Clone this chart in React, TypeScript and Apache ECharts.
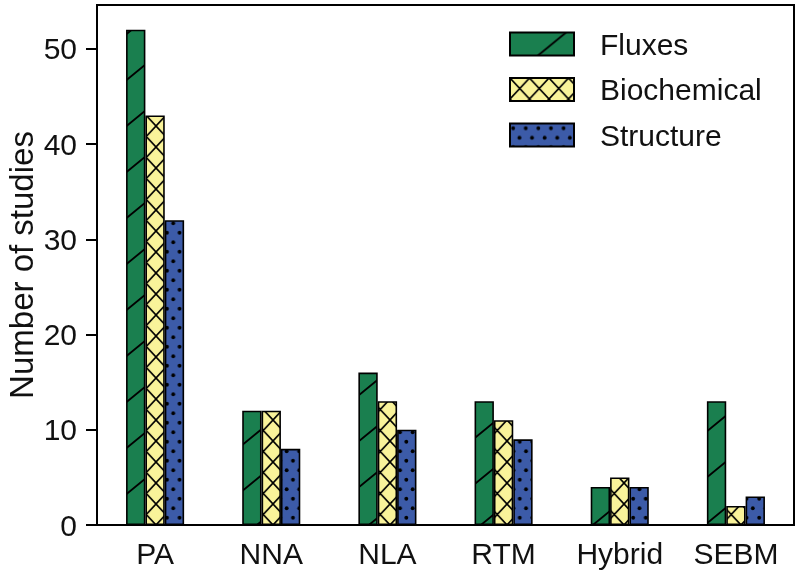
import React, { useEffect, useRef } from 'react';
import * as echarts from 'echarts';

const categories = ['PA', 'NNA', 'NLA', 'RTM', 'Hybrid', 'SEBM'];
const seriesNames = ['Fluxes', 'Biochemical', 'Structure'];
const fluxes = [52, 12, 16, 13, 4, 13];
const biochemical = [43, 12, 13, 11, 5, 2];
const structure = [32, 8, 10, 9, 4, 3];
const yTicks = [0, 10, 20, 30, 40, 50];
const yMax = 54.6;

const GREEN = '#1a7f4f';
const YELLOW = '#f9f39a';
const BLUE = '#3c5ba8';
const FONT = '"Liberation Sans", Arial, Helvetica, sans-serif';

function svgPattern(w: number, h: number, body: string, x = 0, y = 0) {
  const svg = `<svg xmlns="http://www.w3.org/2000/svg" width="${w}" height="${h}" viewBox="0 0 ${w} ${h}">${body}</svg>`;
  return {
    image: 'data:image/svg+xml;charset=utf-8,' + encodeURIComponent(svg),
    repeat: 'repeat',
    imageWidth: w,
    imageHeight: h,
    x,
    y,
  } as any;
}

function hatchPatterns() {
  const gw = 56, gh = 46;
  const green = svgPattern(
    gw,
    gh,
    `<rect width="${gw}" height="${gh}" fill="${GREEN}"/>` +
      `<path d="M${-gw},${2 * gh} L${2 * gw},${-gh} M0,${2 * gh} L${3 * gw},${-gh} M${-2 * gw},${2 * gh} L${gw},${-gh}" stroke="#000" stroke-width="1.8" fill="none"/>`
  );
  const yw = 19.5, yh = 21;
  const yellow = svgPattern(
    yw,
    yh,
    `<rect width="${yw}" height="${yh}" fill="${YELLOW}"/>` +
      `<path d="M${-yw},${-yh} L${2 * yw},${2 * yh} M${2 * yw},${-yh} L${-yw},${2 * yh}" stroke="#000" stroke-width="1.6" fill="none"/>`,
    8.8,
    0
  );
  const bw = 12.6, bh = 19;
  const blue = svgPattern(
    bw,
    bh,
    `<rect width="${bw}" height="${bh}" fill="${BLUE}"/>` +
      `<circle cx="3.15" cy="4.75" r="1.9" fill="#000"/><circle cx="9.45" cy="14.25" r="1.9" fill="#000"/>`
  );
  return [green, yellow, blue];
}

export default function App() {
  const ref = useRef<HTMLDivElement>(null);
  useEffect(() => {
    if (!ref.current) return;
    const chart = echarts.init(ref.current, undefined, { renderer: 'svg' });
    const pats = hatchPatterns();
    const values = [fluxes, biochemical, structure];
    const option: any = {
      animation: false,
      textStyle: { fontFamily: FONT },
      grid: {
        left: 97,
        right: 6,
        top: 5,
        bottom: 51,
        show: true,
        borderColor: '#000',
        borderWidth: 2,
        containLabel: false,
        outerBoundsMode: 'none',
      },
      legend: {
        orient: 'vertical',
        left: 504,
        top: 24,
        itemWidth: 64,
        itemHeight: 23,
        itemGap: 15.5,
        icon: 'rect',
        data: seriesNames,
        textStyle: { fontSize: 30, color: '#111', fontFamily: FONT, padding: [0, 0, 0, 21] },
      },
      xAxis: {
        type: 'category',
        data: categories,
        axisLine: { lineStyle: { color: '#000', width: 2 } },
        axisTick: { alignWithLabel: true, length: 11, lineStyle: { color: '#000', width: 2 } },
        axisLabel: { fontSize: 30, color: '#111', margin: 13, interval: 0, fontFamily: FONT },
      },
      yAxis: {
        type: 'value',
        min: 0,
        max: yMax,
        interval: 10,
        name: 'Number of studies',
        nameLocation: 'middle',
        nameGap: 61,
        nameMoveOverlap: false,
        nameTextStyle: { fontSize: 33, lineHeight: 30, color: '#111', fontFamily: FONT },
        splitLine: { show: false },
        axisLine: { show: true, lineStyle: { color: '#000', width: 2 } },
        axisTick: { show: true, length: 11, customValues: yTicks, lineStyle: { color: '#000', width: 2 } },
        axisLabel: { fontSize: 30, color: '#111', margin: 20, customValues: yTicks, fontFamily: FONT },
      },
      series: seriesNames.map((name, i) => ({
        name,
        type: 'bar',
        data: values[i],
        barGap: '0%',
        barCategoryGap: '50%',
        itemStyle: { color: pats[i], borderColor: '#000', borderWidth: 1.6 },
      })),
    };
    chart.setOption(option);
    return () => chart.dispose();
  }, []);
  return <div ref={ref} style={{ width: 800, height: 576, position: 'fixed', left: 0, top: 0 }} />;
}
